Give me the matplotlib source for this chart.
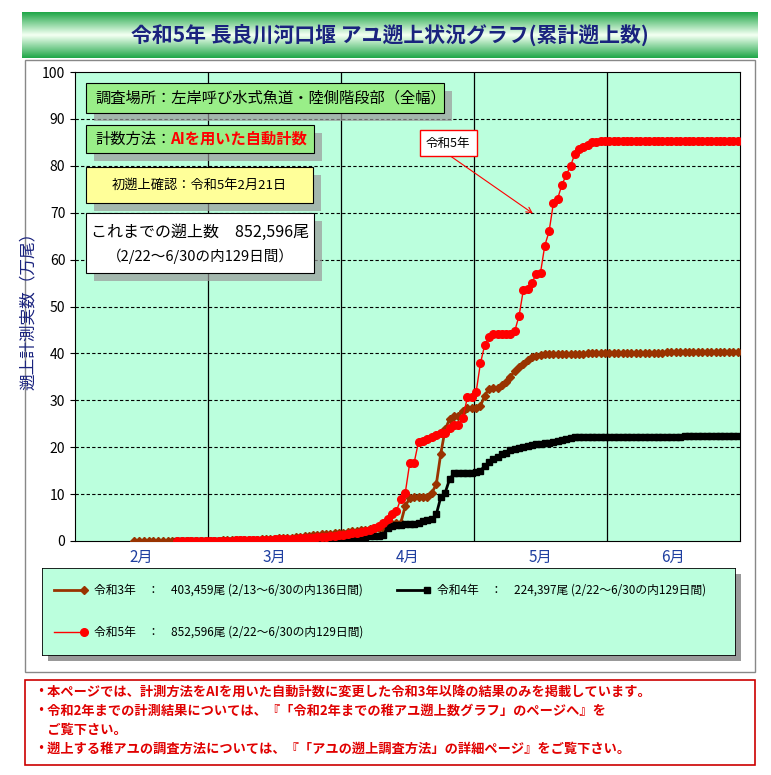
import matplotlib
matplotlib.use("Agg")
import matplotlib.pyplot as plt
import matplotlib.patches as mp
import numpy as np
import datetime as dt

plt.rcParams["font.family"] = "Noto Sans CJK JP"

month_labels = ["2月", "3月", "4月", "5月", "6月"]
month_days = [28, 31, 30, 31, 30]

# R5: Feb22 - Jun30 (values in 万尾)
r5_start = (2, 22)
r5 = ([0.0, 0.0, 0.01, 0.02, 0.02, 0.03, 0.03] +
      [0.05, 0.06, 0.07, 0.08, 0.1, 0.1, 0.12, 0.13, 0.15, 0.17, 0.2, 0.22, 0.25, 0.27, 0.3, 0.32,
       0.35, 0.38, 0.4, 0.45, 0.5, 0.55, 0.6, 0.65, 0.7, 0.75, 0.8, 0.9, 1.0, 1.1, 1.2] +
      [1.3, 1.5, 1.7, 1.8, 2.0, 2.1, 2.3, 2.7, 3.2, 3.9, 4.6, 5.7, 6.4, 9.0, 10.3, 16.6, 16.7, 21.2,
       21.4, 21.7, 22.1, 22.6, 23.0, 23.1, 24.0, 24.8, 24.8, 26.3, 30.6, 30.6] +
      [31.8, 37.9, 41.8, 43.4, 44.1, 44.1, 44.1, 44.1, 44.1, 44.8, 48.0, 53.5, 53.8, 55.0, 57.0, 57.2,
       63.0, 66.0, 72.0, 73.0, 76.0, 78.0, 80.0, 82.5, 83.5, 84.0, 84.5, 85.0, 85.1, 85.2, 85.2] +
      [85.2, 85.2, 85.21, 85.21, 85.21, 85.22, 85.22, 85.22, 85.22, 85.23, 85.23, 85.23, 85.23, 85.24,
       85.24, 85.24, 85.24, 85.24, 85.25, 85.25, 85.25, 85.25, 85.25, 85.25, 85.26, 85.26, 85.26,
       85.26, 85.26, 85.26])

# R3: Feb13 - Jun30
r3_start = (2, 13)
r3 = ([0.0, 0.0, 0.0, 0.01, 0.01, 0.01, 0.02, 0.02, 0.02, 0.03, 0.03, 0.04, 0.04, 0.05, 0.05, 0.05] +
      [0.06, 0.08, 0.1, 0.12, 0.14, 0.16, 0.18, 0.2, 0.22, 0.25, 0.28, 0.3, 0.35, 0.4, 0.45, 0.5,
       0.55, 0.6, 0.65, 0.7, 0.8, 0.9, 1.0, 1.1, 1.2, 1.3, 1.4, 1.5, 1.55, 1.6, 1.7] +
      [1.8, 2.0, 2.1, 2.2, 2.3, 2.4, 2.5, 2.6, 2.7, 2.8, 3.5, 3.6, 3.8, 3.9, 7.5, 9.1, 9.3, 9.3, 9.3,
       9.4, 10.3, 12.1, 18.6, 23.8, 26.0, 26.7, 26.7, 27.8, 28.3, 28.3] +
      [28.4, 28.8, 31.0, 32.5, 32.6, 32.7, 33.3, 34.0, 35.0, 36.3, 37.0, 37.8, 38.6, 39.2, 39.5, 39.7,
       39.8, 39.8, 39.85, 39.85, 39.9, 39.9, 39.9, 39.95, 39.95, 39.95, 40.0, 40.0, 40.0, 40.0, 40.0] +
      [40.02, 40.03, 40.05, 40.06, 40.08, 40.1, 40.11, 40.12, 40.14, 40.15, 40.16, 40.18, 40.19, 40.2,
       40.21, 40.22, 40.23, 40.24, 40.25, 40.26, 40.27, 40.28, 40.29, 40.3, 40.31, 40.32, 40.33,
       40.34, 40.34, 40.35])

# R4: Feb22 - Jun30
r4_start = (2, 22)
r4 = ([0.0] * 7 +
      [0.0, 0.0, 0.0, 0.01, 0.01, 0.01, 0.02, 0.02, 0.03, 0.03, 0.04, 0.04, 0.05, 0.05, 0.06, 0.07,
       0.08, 0.09, 0.1, 0.11, 0.12, 0.14, 0.16, 0.18, 0.2, 0.22, 0.24, 0.26, 0.28, 0.3, 0.32] +
      [0.4, 0.5, 0.6, 0.7, 0.8, 0.9, 1.0, 1.0, 1.1, 1.2, 2.8, 3.2, 3.4, 3.5, 3.6, 3.6, 3.7, 3.8, 4.3,
       4.5, 4.6, 5.7, 9.3, 10.3, 13.2, 14.4, 14.4, 14.4, 14.5, 14.6] +
      [14.8, 15.0, 16.0, 16.8, 17.5, 18.0, 18.5, 18.7, 19.4, 19.7, 19.9, 20.1, 20.3, 20.5, 20.6, 20.7,
       20.8, 20.9, 21.1, 21.3, 21.5, 21.7, 21.9, 22.1, 22.1, 22.1, 22.1, 22.1, 22.1, 22.1, 22.1] +
      [22.1, 22.12, 22.13, 22.14, 22.15, 22.16, 22.17, 22.18, 22.2, 22.21, 22.22, 22.23, 22.24, 22.25,
       22.26, 22.27, 22.28, 22.3, 22.31, 22.32, 22.33, 22.34, 22.35, 22.36, 22.37, 22.38, 22.4, 22.42,
       22.43, 22.44])

legend_texts = ["令和3年　：　403,459尾 (2/13～6/30の内136日間)",
                "令和4年　：　224,397尾 (2/22～6/30の内129日間)",
                "令和5年　：　852,596尾 (2/22～6/30の内129日間)"]


def xpos(start, n):
    d = dt.date(2023, start[0], start[1])
    out = []
    for _ in range(n):
        m = d.month - 2
        out.append(m + (d.day - 0.5) / month_days[m])
        d += dt.timedelta(days=1)
    return np.array(out)


W, H = 771, 775
fig = plt.figure(figsize=(W / 100, H / 100), dpi=100)
fig.patch.set_facecolor("white")

def fx(x): return x / W
def fy(y): return 1 - y / H

fig.add_artist(mp.Rectangle((fx(25), fy(672)), fx(755 - 25), fy(60) - fy(672), fill=False,
                            ec="#888888", lw=1, transform=fig.transFigure, zorder=-5))
bx = fig.add_axes([fx(22), fy(58), fx(758 - 22), fy(12) - fy(58)])
grad = np.abs(np.linspace(-1, 1, 50))[:, None]
bx.imshow(grad, cmap=matplotlib.colors.LinearSegmentedColormap.from_list("g", ["#F0FFF0", "#22A84A"]),
          aspect="auto", extent=[0, 1, 0, 1])
bx.set_axis_off()
bx.text(0.5, 0.5, "令和5年 長良川河口堰 アユ遡上状況グラフ(累計遡上数)", ha="center", va="center",
        fontsize=15, fontweight="bold", color="#1A237E")

ax = fig.add_axes([fx(75), fy(541), fx(740 - 75), fy(72) - fy(541)])
ax.set_facecolor("#BBFFDD")
ax.set_xlim(0, 5)
ax.set_ylim(0, 100)
ax.set_yticks(range(0, 101, 10))
ax.set_xticks([0.5, 1.5, 2.5, 3.5, 4.5])
ax.set_xticklabels(month_labels, color="#1F3FA0", fontsize=11)
ax.tick_params(axis="x", length=0, pad=6)
ax.tick_params(axis="y", labelsize=10)
for v in range(10, 100, 10):
    ax.axhline(v, color="black", ls=(0, (3, 2)), lw=0.8, zorder=1)
for v in range(1, 5):
    ax.axvline(v, color="black", lw=0.9, zorder=1)
ax.set_ylabel("遡上計測実数（万尾）", color="#1A237E", fontsize=12)

ax.plot(xpos(r3_start, len(r3)), r3, color="#993300", lw=2, marker="D", ms=4.5, zorder=3)
ax.plot(xpos(r4_start, len(r4)), r4, color="black", lw=2, marker="s", ms=5, zorder=3)
ax.plot(xpos(r5_start, len(r5)), r5, color="red", lw=1, marker="o", ms=5.5, zorder=4)


def note(x0, y0, x1, y1, fc, texts):
    fig.add_artist(mp.Rectangle((fx(x0 + 8), fy(y1 + 8)), fx(x1 - x0), fy(y0) - fy(y1),
                                fc="#999999", ec="none", alpha=0.7, transform=fig.transFigure, zorder=5))
    fig.add_artist(mp.Rectangle((fx(x0), fy(y1)), fx(x1 - x0), fy(y0) - fy(y1), fc=fc, ec="black",
                                lw=0.8, transform=fig.transFigure, zorder=6))
    for t in texts:
        fig.text(*t[0], t[1], transform=fig.transFigure, zorder=7, **t[2])


note(86, 83, 444, 113, "#99EE88", [((fx(95), fy(98)), "調査場所：左岸呼び水式魚道・陸側階段部（全幅）",
                                    dict(fontsize=11, va="center"))])
note(86, 125, 314, 153, "#99EE88", [((fx(95), fy(139)), "計数方法：", dict(fontsize=11, va="center")),
                                    ((fx(170), fy(139)), "AIを用いた自動計数",
                                     dict(fontsize=11, va="center", color="red", fontweight="bold"))])
note(86, 167, 313, 203, "#FFFF99", [((fx(199), fy(185)), "初遡上確認：令和5年2月21日",
                                    dict(fontsize=9.5, va="center", ha="center"))])
note(86, 213, 314, 273, "white", [((fx(200), fy(232)), "これまでの遡上数　852,596尾",
                                   dict(fontsize=11.5, va="center", ha="center")),
                                  ((fx(200), fy(256)), "（2/22～6/30の内129日間）",
                                   dict(fontsize=10.5, va="center", ha="center"))])

ax.annotate("", xy=(3.46, 69.5), xytext=(2.7, 84.5),
            arrowprops=dict(arrowstyle="->", color="red", lw=0.8))
fig.text(fx(448), fy(143), "令和5年", ha="center", va="center", fontsize=9,
         bbox=dict(fc="white", ec="red", lw=1, boxstyle="square,pad=0.5"), zorder=8)

# legend box
fig.add_artist(mp.Rectangle((fx(48), fy(661)), fx(735 - 42), fy(568) - fy(655), fc="#999999", ec="none",
                            transform=fig.transFigure, zorder=-3))
lg = fig.add_axes([fx(42), fy(655), fx(735 - 42), fy(568) - fy(655)], zorder=10)
lg.set_facecolor("#BBFFDD")
lg.set_xticks([]); lg.set_yticks([])
for s in lg.spines.values():
    s.set_linewidth(0.6)
lg.set_xlim(0, 693)
lg.set_ylim(87, 0)
lg.plot([12, 42], [22, 22], color="#993300", lw=2, marker="D", ms=4.5, markevery=[1])
lg.text(52, 22, legend_texts[0], va="center", fontsize=8.5)
lg.plot([355, 385], [22, 22], color="black", lw=2, marker="s", ms=5, markevery=[1])
lg.text(395, 22, legend_texts[1], va="center", fontsize=8.5)
lg.plot([12, 42], [64, 64], color="red", lw=1, marker="o", ms=5.5, markevery=[1])
lg.text(52, 64, legend_texts[2], va="center", fontsize=8.5)

# footer
fig.add_artist(mp.Rectangle((fx(25), fy(765)), fx(755 - 25), fy(680) - fy(765), fill=False, ec="#CC0000",
                            lw=1.2, transform=fig.transFigure))
foot = ["・本ページでは、計測方法をAIを用いた自動計数に変更した令和3年以降の結果のみを掲載しています。",
        "・令和2年までの計測結果については、『「令和2年までの稚アユ遡上数グラフ」のページへ』を",
        "　ご覧下さい。",
        "・遡上する稚アユの調査方法については、『「アユの遡上調査方法」の詳細ページ』をご覧下さい。"]
for i, t in enumerate(foot):
    fig.text(fx(34), fy(692 + i * 19), t, va="center", fontsize=9.5, color="#E00000", fontweight="bold")

fig.savefig("out.png", dpi=100)
